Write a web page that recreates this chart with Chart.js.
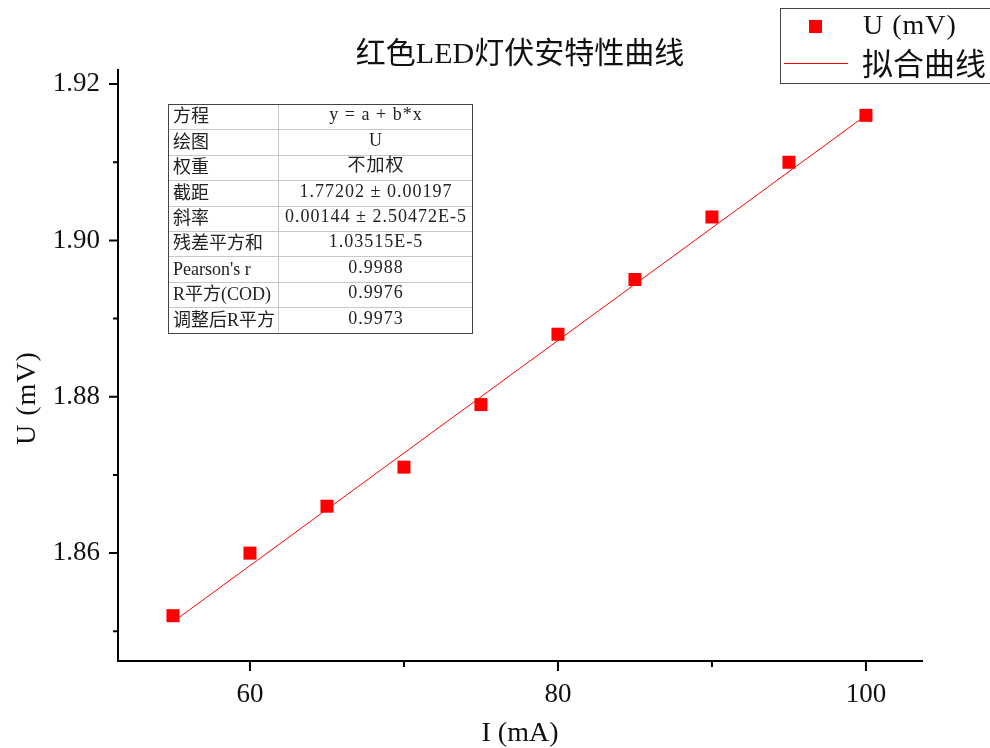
<!DOCTYPE html>
<html>
<head>
<meta charset="utf-8">
<script src="https://cdn.jsdelivr.net/npm/chart.js@4.4.1/dist/chart.umd.min.js"></script>
<style>
  html, body { margin: 0; padding: 0; background: #fff; }
  #wrap { width: 990px; height: 748px; }
</style>
</head>
<body>
<div id="wrap"><canvas id="c" width="990" height="748"></canvas></div>
<script>
// ---- data ----
const currents = [55, 60, 65, 70, 75, 80, 85, 90, 95, 100];
const voltages = [1.852, 1.860, 1.866, 1.871, 1.879, 1.888, 1.895, 1.903, 1.910, 1.916];
const fitX = [55, 100];
const fitY = [1.8512, 1.9160];
const xMajorTicks = [60, 80, 100];
const xMinorTicks = [70, 90];
const yMajorTicks = [1.86, 1.88, 1.90, 1.92];
const yMinorTicks = [1.85, 1.87, 1.89, 1.91];
const chartTitle = '红色LED灯伏安特性曲线';
const xTitle = 'I (mA)';
const yTitle = 'U (mV)';
const seriesLabel = 'U (mV)';
const fitLabel = '拟合曲线';
const tableLabels = ['方程', '绘图', '权重', '截距', '斜率', '残差平方和', "Pearson's r", 'R平方(COD)', '调整后R平方'];
const tableValues = ['y = a + b*x', 'U', '不加权', '1.77202 ± 0.00197', '0.00144 ± 2.50472E-5', '1.03515E-5', '0.9988', '0.9976', '0.9973'];

const FONT = '"Liberation Serif", "Noto Sans CJK SC", serif';
const CJK = '"Noto Sans CJK SC", "Liberation Serif", sans-serif';

const decorPlugin = {
  id: 'decor',
  afterDraw(chart) {
    const ctx = chart.ctx;
    const xs = chart.scales.x, ys = chart.scales.y;
    const ca = chart.chartArea;
    ctx.save();
    // tick marks
    ctx.strokeStyle = '#000';
    ctx.lineWidth = 2;
    ctx.beginPath();
    xMajorTicks.forEach(v => { const p = xs.getPixelForValue(v); ctx.moveTo(p, ca.bottom); ctx.lineTo(p, ca.bottom + 10); });
    xMinorTicks.forEach(v => { const p = xs.getPixelForValue(v); ctx.moveTo(p, ca.bottom); ctx.lineTo(p, ca.bottom + 6); });
    yMajorTicks.forEach(v => { const p = ys.getPixelForValue(v); ctx.moveTo(ca.left, p); ctx.lineTo(ca.left - 9, p); });
    yMinorTicks.forEach(v => { const p = ys.getPixelForValue(v); ctx.moveTo(ca.left, p); ctx.lineTo(ca.left - 5, p); });
    ctx.stroke();

    // title
    ctx.fillStyle = '#111';
    ctx.font = '30px ' + FONT;
    ctx.textAlign = 'center';
    ctx.textBaseline = 'middle';
    ctx.fillText(chartTitle, (ca.left + ca.right) / 2, 55);

    // y axis title
    ctx.save();
    ctx.translate(28, 398);
    ctx.rotate(-Math.PI / 2);
    ctx.font = '28px ' + FONT;
    ctx.letterSpacing = '1px';
    ctx.fillText(yTitle, 0, 0);
    ctx.restore();

    // stats table
    const tx0 = 168, tx1 = 278, tx2 = 472, ty0 = 104, rh = 25.4;
    const n = tableLabels.length;
    ctx.strokeStyle = '#c8c8c8';
    ctx.lineWidth = 1;
    ctx.beginPath();
    for (let i = 1; i < n; i++) {
      const y = Math.round(ty0 + i * rh) + 0.5;
      ctx.moveTo(tx0, y); ctx.lineTo(tx2, y);
    }
    ctx.moveTo(tx1 + 0.5, ty0); ctx.lineTo(tx1 + 0.5, ty0 + n * rh);
    ctx.stroke();
    ctx.strokeStyle = '#444';
    ctx.strokeRect(tx0 + 0.5, ty0 + 0.5, tx2 - tx0, Math.round(n * rh));
    ctx.fillStyle = '#222';
    ctx.font = '18px ' + FONT;
    for (let i = 0; i < n; i++) {
      const cy = ty0 + i * rh + rh / 2 + 1;
      ctx.textAlign = 'left';
      ctx.letterSpacing = '0px';
      ctx.fillText(tableLabels[i], tx0 + 5, cy);
      ctx.textAlign = 'center';
      ctx.letterSpacing = '1px';
      ctx.fillText(tableValues[i], (tx1 + tx2) / 2 + 1, cy - 2);
    }
    ctx.letterSpacing = '0px';

    // legend
    ctx.strokeStyle = '#444';
    ctx.lineWidth = 1;
    ctx.strokeRect(780.5, 8.5, 215, 75);
    ctx.fillStyle = '#ff0000';
    ctx.fillRect(809, 20, 13, 13);
    ctx.strokeStyle = '#ff0000';
    ctx.beginPath();
    ctx.moveTo(784, 63.5); ctx.lineTo(848, 63.5);
    ctx.stroke();
    ctx.fillStyle = '#111';
    ctx.textAlign = 'left';
    ctx.font = '28px ' + FONT;
    ctx.letterSpacing = '1px';
    ctx.fillText(seriesLabel, 863, 27);
    ctx.letterSpacing = '0px';
    ctx.font = '31px ' + CJK;
    ctx.fillText(fitLabel, 862, 63);
    ctx.restore();
  }
};

new Chart(document.getElementById('c'), {
  type: 'scatter',
  data: {
    datasets: [
      {
        label: fitLabel,
        data: fitX.map((x, i) => ({ x, y: fitY[i] })),
        showLine: true,
        borderColor: '#ff0000',
        borderWidth: 1,
        pointRadius: 0,
        fill: false,
        order: 2
      },
      {
        label: seriesLabel,
        data: currents.map((x, i) => ({ x, y: voltages[i] })),
        pointStyle: 'rect',
        pointRadius: 9.2,
        backgroundColor: '#ff0000',
        borderColor: '#ff0000',
        borderWidth: 0,
        order: 1
      }
    ]
  },
  options: {
    responsive: false,
    animation: false,
    layout: { padding: { top: 70, right: 68, left: 0, bottom: 0 } },
    plugins: {
      legend: { display: false },
      title: { display: false },
      tooltip: { enabled: false }
    },
    scales: {
      x: {
        type: 'linear',
        min: 51.43,
        max: 103.64,
        afterBuildTicks: s => { s.ticks = xMajorTicks.map(v => ({ value: v })); },
        afterFit: s => { s.height = 87; },
        grid: { drawOnChartArea: false, drawTicks: false },
        border: { display: true, color: '#000', width: 2 },
        ticks: { padding: 18, color: '#111', font: { family: FONT, size: 27 }, maxRotation: 0, callback: v => String(v) },
        title: { display: true, text: xTitle, color: '#111', font: { family: FONT, size: 28, lineHeight: 1 }, padding: { top: 0, bottom: 0 } }
      },
      y: {
        type: 'linear',
        min: 1.8462,
        max: 1.9218,
        afterBuildTicks: s => { s.ticks = yMajorTicks.map(v => ({ value: v })); },
        afterFit: s => { s.width = 118; },
        grid: { drawOnChartArea: false, drawTicks: false },
        border: { display: true, color: '#000', width: 2 },
        ticks: { padding: 18, color: '#111', font: { family: FONT, size: 27 }, callback: v => Number(v).toFixed(2) },
        title: { display: false, text: yTitle }
      }
    }
  },
  plugins: [decorPlugin]
});
</script>
</body>
</html>
